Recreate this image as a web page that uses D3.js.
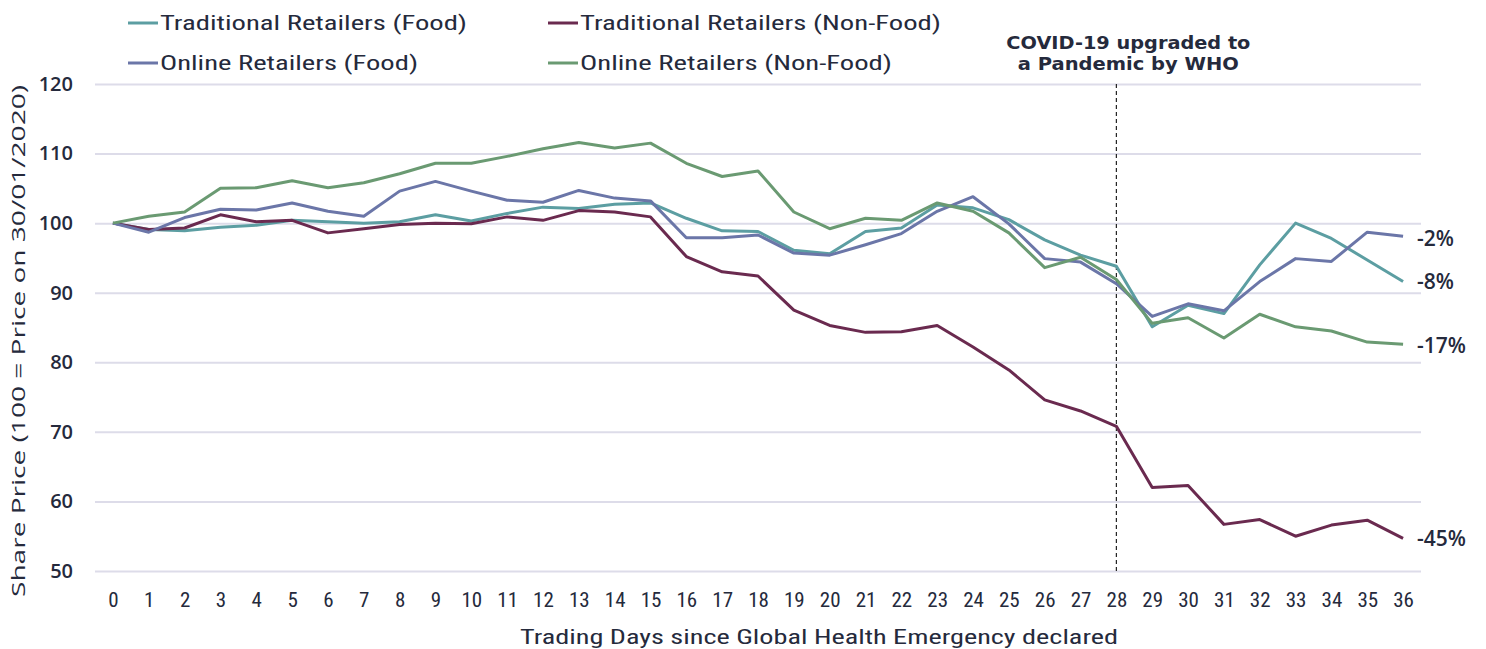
<!DOCTYPE html>
<html>
<head>
<meta charset="utf-8">
<script src="https://cdn.jsdelivr.net/npm/d3@7"></script>
<style>
  body { margin: 0; background: #fff; }
  svg { display: block; }
  .narrow { font-family: "Liberation Sans Narrow", "Roboto Condensed", "Arial Narrow", sans-serif; }
  .wide { font-family: "Open Sans", "DejaVu Sans", sans-serif; }
  .note { font-family: "DejaVu Sans", "Open Sans", sans-serif; }
</style>
</head>
<body>
<svg id="chart" width="1486" height="649"></svg>
<script>
// trading days since 30/01/2020
const days = d3.range(0, 37);

const tradFood = [100, 99.1, 98.9, 99.4, 99.7, 100.4, 100.2, 100.0, 100.2, 101.2,
  100.3, 101.4, 102.3, 102.1, 102.7, 102.9, 100.7, 98.9, 98.8, 96.1,
  95.6, 98.8, 99.3, 102.6, 102.2, 100.5, 97.6, 95.4, 93.8, 85.1,
  88.2, 87.0, 94.0, 100.0, 97.8, 94.7, 91.6];

const tradNonFood = [100, 99.1, 99.3, 101.2, 100.2, 100.4, 98.6, 99.2, 99.8, 100.0,
  99.9, 100.9, 100.4, 101.8, 101.6, 100.9, 95.2, 93.0, 92.4, 87.5,
  85.3, 84.3, 84.4, 85.3, 82.2, 78.9, 74.6, 73.0, 70.8, 62.0,
  62.3, 56.7, 57.4, 55.0, 56.6, 57.3, 54.7];

const onlineFood = [100, 98.7, 100.8, 102.0, 101.9, 102.9, 101.7, 101.0, 104.6, 106.0,
  104.6, 103.3, 103.0, 104.7, 103.6, 103.2, 97.9, 97.9, 98.3, 95.7,
  95.4, 96.9, 98.5, 101.7, 103.8, 99.9, 94.9, 94.4, 91.3, 86.6,
  88.4, 87.4, 91.6, 94.9, 94.5, 98.7, 98.1];

const onlineNonFood = [100, 101.0, 101.6, 105.0, 105.1, 106.1, 105.1, 105.8, 107.1, 108.6,
  108.6, 109.6, 110.7, 111.6, 110.8, 111.5, 108.6, 106.7, 107.5, 101.6,
  99.2, 100.7, 100.4, 102.9, 101.7, 98.6, 93.6, 95.1, 91.9, 85.6,
  86.4, 83.5, 86.9, 85.1, 84.5, 82.9, 82.6];

const yTicks = [50, 60, 70, 80, 90, 100, 110, 120];

const seriesNames = ["Traditional Retailers (Food)", "Traditional Retailers (Non-Food)",
  "Online Retailers (Food)", "Online Retailers (Non-Food)"];
const seriesColors = ["#5c9ea2", "#6a2a4f", "#6b76a8", "#6a9a72"];
const seriesValues = [tradFood, tradNonFood, onlineFood, onlineNonFood];
const endLabels = ["-8%", "-45%", "-2%", "-17%"];

const pandemicDay = 28;
const pandemicNote = ["COVID-19 upgraded to", "a Pandemic by WHO"];

const ink = "#252a3c";
const svg = d3.select("#chart");
const plotLeft = 95, plotRight = 1421, plotTop = 84, plotBottom = 571;

const x = d3.scalePoint().domain(days).range([plotLeft, plotRight]).padding(0.5);
const y = d3.scaleLinear().domain([50, 120]).range([plotBottom, plotTop]);

// gridlines + y tick labels
const yAxis = svg.append("g")
  .attr("transform", `translate(${plotLeft},0)`)
  .call(d3.axisLeft(y).tickValues(yTicks).tickSize(-(plotRight - plotLeft)).tickPadding(22));
yAxis.select(".domain").remove();
yAxis.selectAll(".tick line").attr("stroke", "#dddce9").attr("stroke-width", 2);
yAxis.selectAll(".tick text")
  .attr("class", "wide")
  .attr("fill", ink)
  .attr("font-weight", "600")
  .style("font-size", "20px");

// x tick labels
const xAxis = svg.append("g")
  .attr("transform", `translate(0,${plotBottom})`)
  .call(d3.axisBottom(x).tickSize(0).tickPadding(21));
xAxis.select(".domain").remove();
xAxis.selectAll(".tick text")
  .attr("class", "narrow")
  .attr("fill", ink)
  .style("font-size", "21px");

// pandemic marker
svg.append("line")
  .attr("x1", x(pandemicDay)).attr("x2", x(pandemicDay))
  .attr("y1", plotTop).attr("y2", plotBottom)
  .attr("stroke", "#222")
  .attr("stroke-width", 1.2)
  .attr("stroke-dasharray", "4,3");

svg.append("g").selectAll("text")
  .data(pandemicNote)
  .join("text")
    .attr("class", "note")
    .attr("x", x(pandemicDay) + 12)
    .attr("y", (d, i) => 49 + i * 21)
    .attr("text-anchor", "middle")
    .attr("font-weight", "bold")
    .attr("fill", ink)
    .style("font-size", "18px")
    .attr("textLength", (d, i) => i === 0 ? 244 : 221)
    .attr("lengthAdjust", "spacingAndGlyphs")
    .text(d => d);

// series lines
const line = d3.line().x((d, i) => x(days[i])).y(d => y(d));
svg.append("g").selectAll("path")
  .data(seriesValues)
  .join("path")
    .attr("d", line)
    .attr("fill", "none")
    .attr("stroke", (d, i) => seriesColors[i])
    .attr("stroke-width", 3)
    .attr("stroke-linejoin", "round");

// end labels
const labelY = [281.5, 538, 238, 345];
svg.append("g").selectAll("text")
  .data(endLabels)
  .join("text")
    .attr("class", "wide")
    .attr("x", 1417)
    .attr("y", (d, i) => labelY[i])
    .attr("dy", "0.36em")
    .attr("font-weight", "600")
    .attr("fill", ink)
    .style("font-size", "21px")
    .text(d => d);

// legend
const legendPos = [[128, 23, 307], [548, 23, 361], [128, 63, 258], [548, 63, 312]];
const legend = svg.append("g").selectAll("g")
  .data(seriesNames)
  .join("g")
    .attr("transform", (d, i) => `translate(${legendPos[i][0]},${legendPos[i][1]})`);
legend.append("line")
  .attr("x1", 0).attr("x2", 30)
  .attr("stroke", (d, i) => seriesColors[i])
  .attr("stroke-width", 3);
legend.append("text")
  .attr("class", "narrow")
  .attr("x", 32)
  .attr("dy", "0.35em")
  .attr("fill", ink)
  .style("font-size", "21px")
  .attr("textLength", (d, i) => legendPos[i][2])
  .attr("lengthAdjust", "spacingAndGlyphs")
  .text(d => d);

// axis titles
svg.append("text")
  .attr("class", "narrow")
  .attr("x", 819).attr("y", 644)
  .attr("text-anchor", "middle")
  .attr("fill", ink)
  .style("font-size", "20px")
  .attr("textLength", 598)
  .attr("lengthAdjust", "spacingAndGlyphs")
  .text("Trading Days since Global Health Emergency declared");

svg.append("text")
  .attr("class", "wide")
  .attr("transform", "translate(25,341) rotate(-90)")
  .attr("text-anchor", "middle")
  .attr("fill", ink)
  .style("font-size", "19px")
  .attr("textLength", 512)
  .attr("lengthAdjust", "spacingAndGlyphs")
  .text("Share Price (100 = Price on 30/01/2020)");
</script>
</body>
</html>
